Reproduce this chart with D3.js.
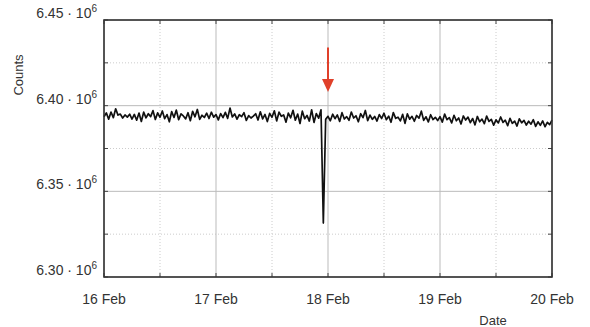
<!DOCTYPE html>
<html>
<head>
<meta charset="utf-8">
<script src="https://cdn.jsdelivr.net/npm/d3@7"></script>
<style>
  body { margin: 0; background: #fff; }
  svg { font-family: "Liberation Sans", Arial, sans-serif; }
</style>
</head>
<body>
<svg id="chart" width="590" height="327"></svg>
<script>
// counts in thousands, sampled every 30 minutes from 16 Feb 00:00
const startDate = new Date(Date.UTC(2016, 1, 16));
const stepMinutes = 30;
const day1 = [6393.5, 6395.8, 6392.1, 6396.3, 6393.0, 6398.2, 6394.5, 6395.1, 6392.8, 6394.6, 6393.3, 6395.0, 6392.2, 6394.9, 6391.5, 6395.7, 6390.8, 6396.2, 6392.9, 6395.3, 6393.6, 6397.1, 6391.9, 6395.8, 6393.2, 6396.9, 6392.4, 6394.8, 6390.6, 6396.5, 6393.1, 6397.4, 6391.8, 6395.2, 6394.0, 6392.3, 6395.9, 6391.2, 6396.7, 6393.5, 6397.8, 6392.0, 6394.4, 6393.1, 6395.6, 6392.5, 6396.2, 6393.3];
const day2 = [6394.8, 6391.7, 6395.4, 6393.0, 6396.1, 6392.6, 6398.6, 6393.4, 6395.2, 6392.1, 6394.7, 6393.6, 6395.9, 6391.4, 6394.2, 6392.8, 6393.9, 6395.3, 6391.6, 6396.4, 6392.3, 6394.9, 6390.7, 6395.5, 6393.2, 6397.0, 6391.1, 6396.2, 6393.8, 6394.6, 6390.4, 6395.7, 6392.9, 6397.3, 6391.5, 6395.1, 6389.6, 6396.8, 6392.4, 6394.3, 6391.0, 6397.6, 6390.2, 6395.4, 6392.7, 6397.6, 6331.5, 6392.0];
const day3 = [6393.8, 6391.2, 6395.0, 6392.4, 6394.6, 6390.8, 6395.9, 6392.2, 6393.6, 6391.5, 6396.3, 6392.8, 6394.1, 6390.6, 6395.3, 6393.0, 6397.2, 6391.3, 6394.5, 6392.0, 6393.7, 6391.0, 6394.8, 6392.5, 6395.6, 6391.8, 6393.9, 6390.3, 6396.0, 6392.6, 6393.3, 6391.1, 6394.9, 6389.7, 6395.2, 6392.1, 6393.8, 6390.9, 6394.3, 6392.7, 6396.8, 6391.4, 6393.5, 6390.5, 6394.7, 6391.9, 6393.2, 6391.3];
const day4 = [6393.6, 6390.4, 6395.1, 6391.8, 6393.0, 6389.9, 6394.4, 6391.2, 6392.8, 6389.3, 6394.0, 6391.6, 6393.3, 6390.1, 6392.5, 6388.8, 6393.7, 6390.6, 6392.2, 6389.5, 6393.9, 6390.8, 6392.0, 6388.6, 6391.7, 6389.9, 6393.4, 6390.2, 6391.5, 6388.3, 6392.6, 6389.7, 6391.0, 6388.1, 6392.3, 6390.0, 6391.4, 6388.7, 6390.9, 6389.2, 6391.8, 6387.9, 6390.6, 6388.5, 6391.1, 6387.7, 6390.3, 6388.9, 6391.5];
const countsK = [...day1, ...day2, ...day3, ...day4];

const yTicks = [6.30, 6.35, 6.40, 6.45];   // x 10^6
const yMinor = [6.325, 6.375, 6.425];
const xDomain = [new Date(Date.UTC(2016, 1, 16)), new Date(Date.UTC(2016, 1, 20))];
const markerDate = new Date(Date.UTC(2016, 1, 18));
const markerRange = [6.434, 6.408];  // arrow tail / tip, x 10^6

const data = countsK.map((v, i) => ({
  t: new Date(startDate.getTime() + i * stepMinutes * 60000),
  v: v * 1000
}));

const margin = { left: 104, right: 38, top: 20, bottom: 50 };
const svg = d3.select('#chart');
const width = 590 - margin.left - margin.right;
const height = 327 - margin.top - margin.bottom;
const g = svg.append('g').attr('transform', `translate(${margin.left},${margin.top})`);

const x = d3.scaleUtc().domain(xDomain).range([0, width]);
const y = d3.scaleLinear().domain([6.30e6, 6.45e6]).range([height, 0]);

const days = d3.utcDay.range(xDomain[0], d3.utcDay.offset(xDomain[1], 1));
const halfDays = d3.utcHour.every(12).range(xDomain[0], xDomain[1]).filter(d => d.getUTCHours() === 12);

// grid
g.append('g').selectAll('line').data(yMinor).join('line')
  .attr('x1', 0).attr('x2', width)
  .attr('y1', d => y(d * 1e6)).attr('y2', d => y(d * 1e6))
  .attr('stroke', '#ccc').attr('stroke-dasharray', '1,2');
g.append('g').selectAll('line').data(halfDays).join('line')
  .attr('x1', d => x(d)).attr('x2', d => x(d))
  .attr('y1', 0).attr('y2', height)
  .attr('stroke', '#ccc').attr('stroke-dasharray', '1,2');
g.append('g').selectAll('line').data(yTicks).join('line')
  .attr('x1', 0).attr('x2', width)
  .attr('y1', d => y(d * 1e6)).attr('y2', d => y(d * 1e6))
  .attr('stroke', '#bbb');
g.append('g').selectAll('line').data(days).join('line')
  .attr('x1', d => x(d)).attr('x2', d => x(d))
  .attr('y1', 0).attr('y2', height)
  .attr('stroke', '#bbb');

// inward ticks
const allY = [...yTicks, ...yMinor];
const allX = [...days, ...halfDays];
g.append('g').selectAll('line').data(allY).join('line')
  .attr('x1', 0).attr('x2', 4)
  .attr('y1', d => y(d * 1e6)).attr('y2', d => y(d * 1e6))
  .attr('stroke', '#444');
g.append('g').selectAll('line').data(allY).join('line')
  .attr('x1', width - 4).attr('x2', width)
  .attr('y1', d => y(d * 1e6)).attr('y2', d => y(d * 1e6))
  .attr('stroke', '#444');
g.append('g').selectAll('line').data(allX).join('line')
  .attr('x1', d => x(d)).attr('x2', d => x(d))
  .attr('y1', height - 4).attr('y2', height)
  .attr('stroke', '#444');
g.append('g').selectAll('line').data(allX).join('line')
  .attr('x1', d => x(d)).attr('x2', d => x(d))
  .attr('y1', 0).attr('y2', 4)
  .attr('stroke', '#444');

// series
const line = d3.line().x(d => x(d.t)).y(d => y(d.v));
g.append('path').datum(data)
  .attr('d', line)
  .attr('fill', 'none')
  .attr('stroke', '#111')
  .attr('stroke-width', 1.7)
  .attr('stroke-linejoin', 'round');

// frame
g.append('rect').attr('width', width).attr('height', height)
  .attr('fill', 'none').attr('stroke', '#333').attr('stroke-width', 1.6);

// y labels
const yl = g.append('g').selectAll('text').data(yTicks).join('text')
  .attr('x', -7).attr('y', d => y(d * 1e6) - 2)
  .attr('text-anchor', 'end')
  .attr('font-size', 14).attr('fill', '#333');
yl.append('tspan').text(d => d3.format('.2f')(d) + ' \u00b7 10');
yl.append('tspan').attr('dy', -6).attr('font-size', 10).text('6');

// x labels
g.append('g').selectAll('text').data(days).join('text')
  .attr('x', d => x(d)).attr('y', height + 27)
  .attr('text-anchor', 'middle')
  .attr('font-size', 14).attr('fill', '#333')
  .text(d3.utcFormat('%-d %b'));

svg.append('text')
  .attr('transform', 'translate(23,75) rotate(-90)')
  .attr('text-anchor', 'middle')
  .attr('font-size', 13).attr('fill', '#333')
  .text('Counts');
svg.append('text')
  .attr('x', 493).attr('y', 325)
  .attr('text-anchor', 'middle')
  .attr('font-size', 13).attr('fill', '#333')
  .text('Date');

// red arrow marking the dip
const ax = x(markerDate);
const yTail = y(markerRange[0] * 1e6);
const yTip = y(markerRange[1] * 1e6);
g.append('line')
  .attr('x1', ax).attr('x2', ax)
  .attr('y1', yTail).attr('y2', yTip - 10)
  .attr('stroke', '#e0402a').attr('stroke-width', 2);
g.append('path')
  .attr('d', `M${ax - 6},${yTip - 13} L${ax + 6},${yTip - 13} L${ax},${yTip} Z`)
  .attr('fill', '#e0402a');
</script>
</body>
</html>
